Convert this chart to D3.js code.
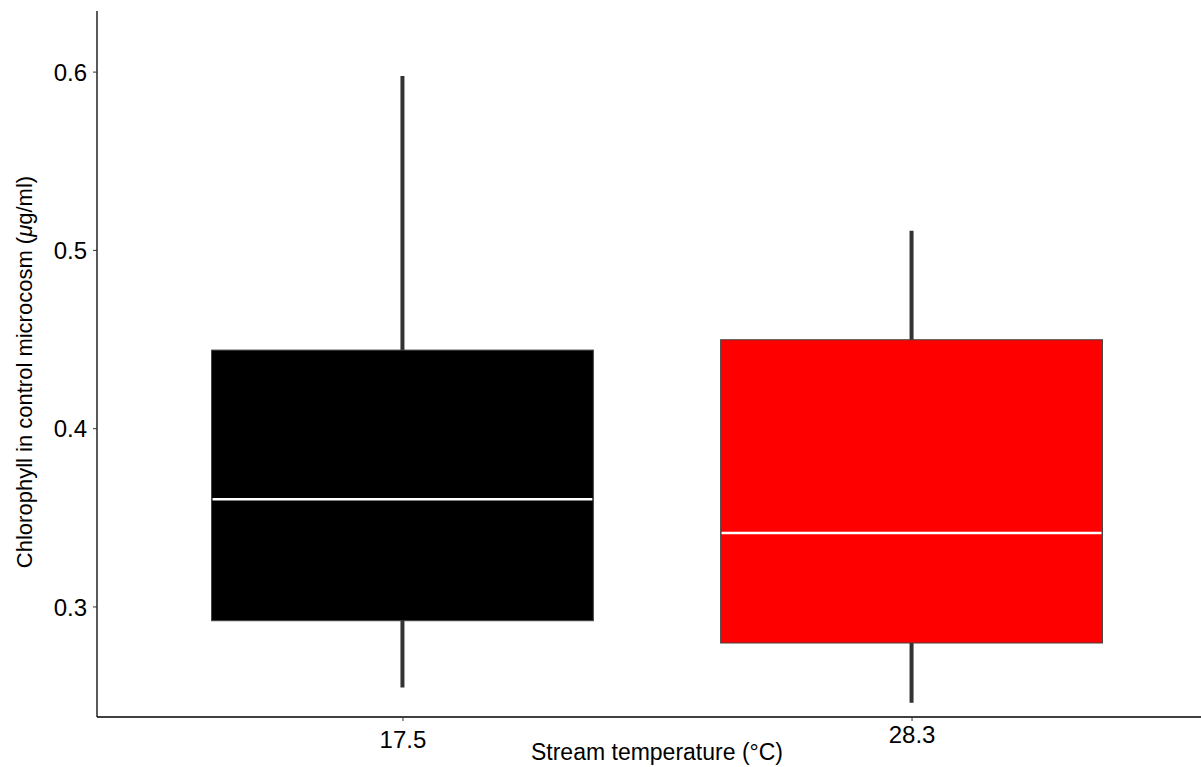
<!DOCTYPE html>
<html>
<head>
<meta charset="utf-8">
<script src="https://cdn.jsdelivr.net/npm/d3@7"></script>
<style>
  body { margin: 0; background: #fff; }
  text { font-family: "Liberation Sans", Arial, sans-serif; fill: #000; }
</style>
</head>
<body>
<div id="chartContainer"></div>
<script>
// Data
const categories = ["17.5", "28.3"];
const lowerWhisker = [0.2546, 0.246];
const q1 = [0.292, 0.2795];
const median = [0.3602, 0.3412];
const q3 = [0.4438, 0.4496];
const upperWhisker = [0.5976, 0.5108];
const boxColors = ["#000000", "#ff0000"];
const yTicks = [0.3, 0.4, 0.5, 0.6];

const W = 1201, H = 767;
// panel runs a bit past the right edge of the picture
const margin = { top: 11, left: 97, bottom: 50 },
    panelRight = 1217,
    panelBottom = H - margin.bottom;

const svg = d3.select("#chartContainer")
    .append("svg")
    .attr("width", W)
    .attr("height", H);

const x = d3.scalePoint()
    .domain(categories)
    .range([margin.left, panelRight])
    .padding(0.6);

const y = d3.scaleLinear()
    .domain([0.238, 0.634])
    .range([panelBottom, margin.top]);

const boxes = categories.map((c, i) => ({
    cat: c, lo: lowerWhisker[i], q1: q1[i], med: median[i], q3: q3[i], hi: upperWhisker[i], color: boxColors[i]
}));

const boxW = x.step() * 0.75;

// whiskers
svg.selectAll(".whisker")
    .data(boxes)
    .enter()
    .append("line")
    .attr("x1", d => x(d.cat)).attr("x2", d => x(d.cat))
    .attr("y1", d => y(d.lo)).attr("y2", d => y(d.hi))
    .attr("stroke", "#333333")
    .attr("stroke-width", 4);

// boxes
svg.selectAll(".box")
    .data(boxes)
    .enter()
    .append("rect")
    .attr("x", d => x(d.cat) - boxW / 2)
    .attr("width", boxW)
    .attr("y", d => y(d.q3))
    .attr("height", d => y(d.q1) - y(d.q3))
    .attr("fill", d => d.color)
    .attr("stroke", "#444444")
    .attr("stroke-width", 1);

// medians
svg.selectAll(".median")
    .data(boxes)
    .enter()
    .append("line")
    .attr("x1", d => x(d.cat) - boxW / 2 + 1)
    .attr("x2", d => x(d.cat) + boxW / 2 - 1)
    .attr("y1", d => y(d.med)).attr("y2", d => y(d.med))
    .attr("stroke", "#ffffff")
    .attr("stroke-width", 2.5);

// Y-axis
const yAxis = svg.append("g")
    .attr("transform", `translate(${margin.left},0)`)
    .call(d3.axisLeft(y).tickValues(yTicks).tickSize(4).tickPadding(6).tickFormat(d3.format(".1f")));
yAxis.select(".domain").attr("d", `M0,${margin.top}V${panelBottom}`).attr("stroke-width", 1.3);
yAxis.selectAll(".tick text").style("font-size", "24px").attr("dy", "0.36em");
yAxis.selectAll(".tick line").attr("stroke", "#333");

// X-axis
const xAxis = svg.append("g")
    .attr("transform", `translate(0,${panelBottom})`)
    .call(d3.axisBottom(x).tickSize(4).tickPadding(5));
xAxis.select(".domain").attr("d", `M${margin.left},0H${panelRight}`).attr("stroke-width", 1.3);
xAxis.selectAll(".tick line").attr("stroke", "#333");
xAxis.selectAll(".tick text")
    .style("font-size", "24px")
    .attr("dy", (d, i) => i === 0 ? "0.9em" : "0.7em");

// Axis titles
svg.append("text")
    .attr("x", (margin.left + panelRight) / 2)
    .attr("y", 760)
    .attr("text-anchor", "middle")
    .style("font-size", "23px")
    .text("Stream temperature (°C)");

const yTitle = svg.append("text")
    .attr("transform", `translate(32,${(margin.top + panelBottom) / 2 + 8}) rotate(-90)`)
    .attr("text-anchor", "middle")
    .style("font-size", "22px");
yTitle.append("tspan").text("Chlorophyll in control microcosm (");
yTitle.append("tspan").style("font-style", "italic").text("μ");
yTitle.append("tspan").text("g/ml)");
</script>
</body>
</html>
